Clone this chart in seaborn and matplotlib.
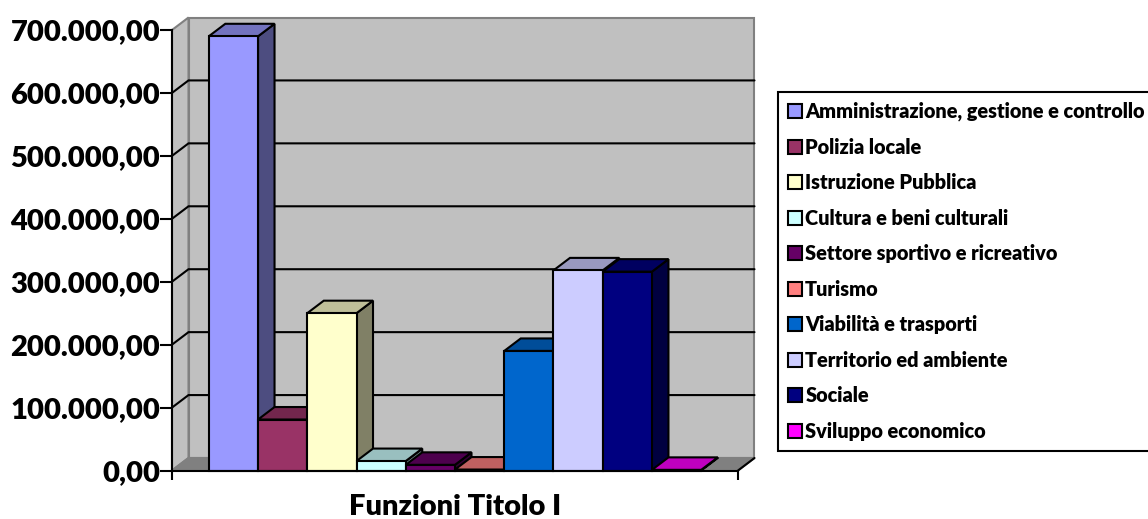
import matplotlib

matplotlib.use("Agg")
import matplotlib.pyplot as plt
import numpy as np
import pandas as pd
import seaborn as sns
from matplotlib.colors import to_rgb
from matplotlib.patches import Polygon

categoria = "Funzioni Titolo I"
funzioni = ["Amministrazione, gestione e controllo", "Polizia locale", "Istruzione Pubblica",
            "Cultura e beni culturali", "Settore sportivo e ricreativo", "Turismo",
            "Viabilità e trasporti", "Territorio ed ambiente", "Sociale", "Sviluppo economico"]
valori = [690000, 81000, 250000, 15000, 9000, 1500, 190000, 318000, 316000, 1000]
colori = ["#9999FF", "#993366", "#FFFFCC", "#CCFFFF", "#660066",
          "#FF8080", "#0066CC", "#CCCCFF", "#000080", "#FF00FF"]
tick_valori = [0, 100000, 200000, 300000, 400000, 500000, 600000, 700000]
tick_etichette = ["0,00", "100.000,00", "200.000,00", "300.000,00",
                  "400.000,00", "500.000,00", "600.000,00", "700.000,00"]

W, H = 1148, 519
X0, X1, Y_TOP, Y_BOT = 172, 738, 30, 470.5
DEPTH_X, DEPTH_Y = 16.5, 12.5  # pixels of fake 3D depth
PESO = "heavy"

sns.set_theme(style="white")
plt.rcParams["font.family"] = ["Lato", "DejaVu Sans"]
plt.rcParams["font.weight"] = PESO

fig = plt.figure(figsize=(W / 100, H / 100), dpi=100, facecolor="white")
ax = fig.add_axes([X0 / W, 1 - Y_BOT / H, (X1 - X0) / W, (Y_BOT - Y_TOP) / H])
ax.patch.set_alpha(0)

df = pd.DataFrame({"categoria": categoria, "funzione": funzioni, "valore": valori})
sns.barplot(data=df, x="categoria", y="valore", hue="funzione", hue_order=funzioni,
            palette=colori, saturation=1, width=0.87, errorbar=None,
            edgecolor="black", linewidth=1.5, ax=ax)

ax.set_xlim(-0.5, 0.5)
ax.set_ylim(0, tick_valori[-1])
dx = DEPTH_X / (X1 - X0)
dy = DEPTH_Y / (Y_BOT - Y_TOP) * tick_valori[-1]
xa, xb = ax.get_xlim()
ytop = ax.get_ylim()[1]


def poly(pts, face, edge="#808080", lw=1.5, z=0.5):
    ax.add_patch(Polygon(pts, closed=True, facecolor=face, edgecolor=edge, linewidth=lw,
                         joinstyle="miter", clip_on=False, zorder=z))


def shade(color, k):
    return tuple(c * k for c in to_rgb(color))


# walls and floor
poly([(xa + dx, dy), (xb + dx, dy), (xb + dx, ytop + dy), (xa + dx, ytop + dy)], "#C0C0C0")
poly([(xa, 0), (xa + dx, dy), (xa + dx, ytop + dy), (xa, ytop)], "#C0C0C0")
poly([(xa, 0), (xb, 0), (xb + dx, dy), (xa + dx, dy)], "#808080")

for v in tick_valori[1:-1]:
    ax.plot([xa, xa + dx, xb + dx], [v, v + dy, v + dy], color="black", lw=1.5,
            clip_on=False, zorder=0.8, solid_joinstyle="miter")
ax.plot([xb, xb + dx], [0, dy], color="black", lw=1.5, clip_on=False, zorder=0.8)

# bars: side and top faces come from the seaborn patches
for i, bar in enumerate(ax.patches[:len(funzioni)]):
    left, w, h = bar.get_x(), bar.get_width(), bar.get_height()
    col = colori[i]
    z = 3 + i * 0.1
    poly([(left + w, 0), (left + w + dx, dy), (left + w + dx, h + dy), (left + w, h)],
         shade(col, 0.5), "black", 1.5, z)
    poly([(left, h), (left + w, h), (left + w + dx, h + dy), (left + dx, h + dy)],
         shade(col, 0.75), "black", 1.5, z + 0.01)
    bar.set_zorder(z + 0.02)
    bar.set_clip_on(False)
    bar.set_joinstyle("miter")

sns.despine(ax=ax)
for s in ("left", "bottom"):
    ax.spines[s].set_linewidth(1.5)
    ax.spines[s].set_color("black")
    ax.spines[s].set_zorder(5)

ax.set_yticks(tick_valori, labels=tick_etichette)
ax.set_xticks([xa, xb], labels=["", ""])
ax.tick_params(axis="y", left=True, length=8.5, width=1.5, color="black", pad=0,
               labelsize=21, labelcolor="black")
ax.tick_params(axis="x", bottom=True, length=6.5, width=1.5, color="black")
ax.set_ylabel("")
ax.set_xlabel(categoria, fontsize=21, fontweight=PESO, color="black", labelpad=7)

handles, labels = ax.get_legend_handles_labels()
leg = ax.legend(handles, labels, loc="upper left", bbox_to_anchor=(778 / W, 1 - 92 / H),
                bbox_transform=fig.transFigure, borderaxespad=0,
                frameon=True, fancybox=False, framealpha=1, facecolor="white",
                edgecolor="black", handlelength=0.72, handleheight=0.7, handletextpad=0.15,
                labelspacing=0.83, borderpad=0.5, prop={"size": 14.3, "weight": PESO})
leg.get_frame().set_linewidth(1.5)
leg.set_zorder(20)
for t in leg.get_texts():
    t.set_color("black")

fig.savefig("out.png", dpi=100, facecolor="white")
plt.close(fig)
